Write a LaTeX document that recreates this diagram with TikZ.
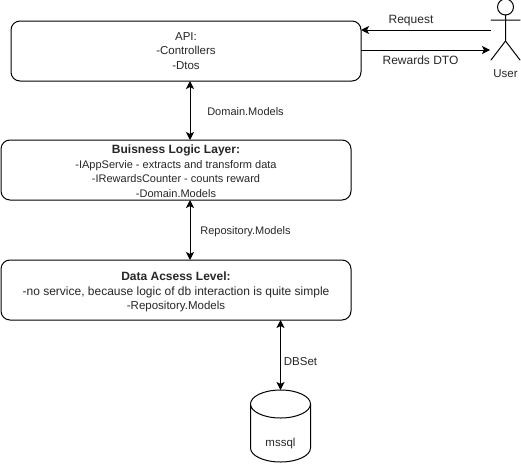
\documentclass[tikz,border=0pt]{standalone}
\usepackage{fontspec}
\setmainfont{Liberation Sans}
\usetikzlibrary{arrows.meta}
\newcommand{\fsA}{\fontsize{12pt}{14.5pt}\selectfont}
\newcommand{\fsB}{\fontsize{11pt}{14.5pt}\selectfont}
\newcommand{\fsC}{\fontsize{11.5pt}{14.5pt}\selectfont}
\tikzset{
  layerbox/.style={draw=black,line width=1pt,rounded corners=9pt,minimum width=350pt,minimum height=60pt,inner sep=0pt,outer sep=0pt,anchor=north west,align=center,font=\fsC,text=black!85},
  lbl/.style={inner sep=0pt,outer sep=0pt,font=\fsC,text=black!85},
  arrowline/.style={line width=1pt,draw=black,{Stealth[length=8pt,width=8pt,inset=2pt]}-{Stealth[length=8pt,width=8pt,inset=2pt]}},
  onearrow/.style={line width=1pt,draw=black,-{Stealth[length=8pt,width=8pt,inset=2pt]}},
  dbbounds/.style={minimum width=60pt,minimum height=72pt,inner sep=0pt,outer sep=0pt},
  figure/.style={line width=1pt,draw=black,line cap=round}
}
\begin{document}
\begin{tikzpicture}[x=1pt,y=-1pt]
\useasboundingbox (0,0) rectangle (521,471);
\node[layerbox] (api) at (11,21) {API:\\-Controllers\\-Dtos};
\node[layerbox] (bll) at (1,140) {\rule{0pt}{11pt}{\fsA\textbf{Buisness Logic Layer:}}\\{\fsB -IAppServie - extracts and transform data}\\{\fsB -IRewardsCounter - counts reward}\\{\fsB -Domain.Models}};
\node[layerbox] (dal) at (1,260) {\rule{0pt}{12.5pt}{\fsA\textbf{Data Acsess Level:}}\\{\fsA -no service, because logic of db interaction is quite simple}\\-Repository.Models};
\node[dbbounds] (db) at (280.5,426) {};
\draw[line width=1pt] (db.north west) ++(0,14)
  arc[start angle=180,end angle=0,x radius=30,y radius=-14]
  -- ++(0,44)
  arc[start angle=0,end angle=-180,x radius=30,y radius=-14]
  -- cycle
  (db.north west) ++(0,14) arc[start angle=180,end angle=360,x radius=30,y radius=-14];
\node[lbl] (dbtext) at (280.5,443.5) {mssql};
% actor
\draw[figure] (505.5,7) circle (8);
\draw[figure] (505.5,15) -- (505.5,41) (491,20) -- (520,20) (491,60) -- (505.5,41) -- (520,60);
\coordinate (actorTop) at (491,30);
\coordinate (actorBot) at (490,50);
\coordinate (apiTop) at (361,30);
\coordinate (apiBot) at (361,50);
\node[lbl] (user) at (505.5,74) {User};
\draw[onearrow] (actorTop) -- (apiTop);
\draw[onearrow] (apiBot) -- (actorBot);
\node[lbl,font=\fsA] (req) at (411,20.5) {Request};
\node[lbl,font=\fsA] (dto) at (420.5,60) {Rewards DTO};
\coordinate (a1) at (190,81);
\coordinate (b1) at (190,140);
\coordinate (b2) at (190,200);
\coordinate (d2) at (190,260);
\coordinate (d3) at (280.5,320);
\draw[arrowline] (a1) -- (b1);
\draw[arrowline] (b2) -- (d2);
\draw[arrowline] (d3) -- (db.north);
\node[lbl,font=\fsB] (l1) at (245.5,111.5) {Domain.Models};
\node[lbl,font=\fsB] (l2) at (245.5,231.5) {Repository.Models};
\node[lbl] (l3) at (300.5,361.5) {DBSet};
\end{tikzpicture}
\end{document}
